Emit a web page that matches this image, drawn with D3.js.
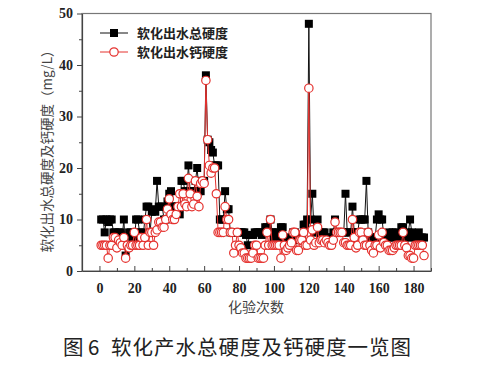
<!DOCTYPE html>
<html><head><meta charset="utf-8">
<script src="https://cdn.jsdelivr.net/npm/d3@7"></script>
<style>html,body{margin:0;padding:0;background:#fff;}svg{display:block;}</style>
</head><body>
<svg id="chart" width="482" height="368"></svg>
<script>
// 化验次数 1..186
const totalHardness = [
10,10,7.5,10,9.5,10,10,7.5,7.5,6,
7.5,7.5,6.5,10,3,5,7.5,7.5,6.5,6,
10,10,7.5,7.5,6.5,10,12.5,12.5,7.5,11.5,
12,11.5,17.5,12.5,12.5,12.5,10,10,13.5,15,
15.5,12.5,12.5,12.5,12.5,11,17.5,17.5,15.5,15.5,
20.5,15.5,15.5,15.5,17.5,20,15.5,15.5,17.5,17.5,
38,25.5,25,23.5,23,20.5,20.5,20.5,10,10,
10,15.5,12,12,7.5,7.5,7.5,7.5,7.5,7.5,
7.5,7.5,7.5,7,5,7,7,7,7.5,7.5,
7.5,7.5,7,7.5,8.5,8.5,7.5,10,7.5,6.5,
7.5,7.5,6.5,8.5,8.5,6,6,6.5,6,6.5,
7.5,7.5,6,6,6.5,6.5,9,9,10,48,
10,15,7.5,7.5,10,7.5,6.5,7.5,7.5,6.5,
6,6.5,6.5,7.5,10,7.5,7.5,7.5,7.5,7.5,
15,7.5,7.5,7.5,12.5,7.5,7.5,7.5,10,10,
10,10,17.5,7.5,6.5,6.5,6.5,6.5,10,11,
10,10,6.5,6.5,6.5,7.5,6.5,7.5,6.5,7.5,
6.5,6.5,8.5,8.5,6.5,6.5,7.5,10,7.5,6.5,
6.5,6.5,7.5,6.5,6.5,6.5
];
const calciumHardness = [
5,5,5,5,2.5,5,5,6.5,6.5,4.5,
6,5.5,5,6.5,2.5,5,4.5,5,5,7.5,
5,5,5,6.5,5,6.5,10,5,7.5,7.5,
5,7.5,8,9.5,9.5,8.5,8.5,10,12,14,
11,10,10,11,12.5,15,12.5,15,13,12.5,
18,15,12.5,13,17.5,14.5,12.5,17,17.5,17,
37,25.5,20.5,19,20,20,15,7.5,7.5,7.5,
7.5,12.5,10,10,7.5,7.5,3.5,5,7.5,5,
4.5,3.5,3.5,2.5,2.5,2.5,2.5,3.5,5,5,
2.5,2.5,2.5,2.5,5,7.5,5,10,5,5,
5,5,5,2.5,7,5,4,4.5,5,5.5,
7.5,7.5,4,4,6,6,7.5,5,5,35.5,
6,8,5,5.5,8.5,5.5,6,6,5.5,6,
5.5,5,5,6,9.5,7.5,7.5,7.5,7.5,5.5,
5.5,5,5,5,10,6.5,4.5,5,7.5,7.5,
6,5,5,7.5,5,4,3.5,5,5,7,
4.5,7.5,5.5,5,5,4,4,4,4.5,5,
5,5,5,7.5,5,4.5,3,3,2.5,2.5,
5,5,5,5,5,3
];
const xTicks = [0,20,40,60,80,100,120,140,160,180];
const yTicks = [0,10,20,30,40,50];
const seriesNames = ["软化出水总硬度","软化出水钙硬度"];
const xTitle = "化验次数";
const yTitle = "软化出水总硬度及钙硬度（mg/L）";
const caption = ["图","6","软化产水总硬度及钙硬度一览图"];

const svg = d3.select("#chart");
const L = 82, R = 431, T = 13.5, B = 271;
const x = d3.scaleLinear().domain([-10,190]).range([L,R]);
const y = d3.scaleLinear().domain([0,50]).range([B,T]);
const axisColor = "#444";
const serif = "'Liberation Serif','Times New Roman',serif";
const cjk = "'Noto Sans CJK SC','Noto Sans',sans-serif";

// frame
svg.append("rect").attr("x",L).attr("y",T).attr("width",R-L).attr("height",B-T)
  .attr("fill","none").attr("stroke","#777").attr("stroke-width",1.2);

// x axis: inward ticks
const xAxis = d3.axisBottom(x).tickValues(xTicks).tickSizeInner(-5).tickSizeOuter(0).tickPadding(12);
const gx = svg.append("g").attr("transform",`translate(0,${B})`).call(xAxis);
gx.select(".domain").attr("stroke",axisColor).attr("stroke-width",1.2);
gx.selectAll(".tick line").attr("stroke",axisColor);
gx.selectAll(".tick text").attr("font-family",serif).attr("font-weight","bold").attr("font-size",14).attr("fill","#222");
const gxm = svg.append("g").attr("transform",`translate(0,${B})`)
  .call(d3.axisBottom(x).tickValues(d3.range(-10,191,10).filter(v=>v%20!==0)).tickSize(-3).tickFormat(""));
gxm.select(".domain").remove();
gxm.selectAll(".tick line").attr("stroke",axisColor);

// y axis: outward ticks
const yAxis = d3.axisLeft(y).tickValues(yTicks).tickSizeInner(5).tickSizeOuter(0).tickPadding(4);
const gy = svg.append("g").attr("transform",`translate(${L},0)`).call(yAxis);
gy.select(".domain").attr("stroke",axisColor).attr("stroke-width",1.2);
gy.selectAll(".tick line").attr("stroke",axisColor);
gy.selectAll(".tick text").attr("font-family",serif).attr("font-weight","bold").attr("font-size",14).attr("fill","#222");
const gym = svg.append("g").attr("transform",`translate(${L},0)`)
  .call(d3.axisLeft(y).tickValues([5,15,25,35,45]).tickSize(3).tickFormat(""));
gym.select(".domain").remove();
gym.selectAll(".tick line").attr("stroke",axisColor);

const idx = d3.range(1, totalHardness.length+1);
const lineGen = d3.line().x(d=>x(d[0])).y(d=>y(d[1]));
const tData = idx.map((i,k)=>[i,totalHardness[k]]);
const cData = idx.map((i,k)=>[i,calciumHardness[k]]);
const red = "#e5322f";

svg.append("path").datum(tData).attr("d",lineGen).attr("fill","none").attr("stroke","#111").attr("stroke-width",1);
svg.append("g").selectAll("rect").data(tData).join("rect")
  .attr("x",d=>x(d[0])-4).attr("y",d=>y(d[1])-4).attr("width",8).attr("height",8).attr("fill","#000");

svg.append("path").datum(cData).attr("d",lineGen).attr("fill","none").attr("stroke",red).attr("stroke-width",1);
svg.append("g").selectAll("circle").data(cData).join("circle")
  .attr("cx",d=>x(d[0])).attr("cy",d=>y(d[1])).attr("r",4.2)
  .attr("fill","#fff").attr("stroke",red).attr("stroke-width",1.2);

// legend
const lg = svg.append("g");
[[33,"#111","sq"],[52,red,"ci"]].forEach((r,k)=>{
  lg.append("line").attr("x1",100).attr("x2",128).attr("y1",r[0]).attr("y2",r[0]).attr("stroke",r[1]).attr("stroke-width",1);
  if(r[2]==="sq") lg.append("rect").attr("x",110).attr("y",r[0]-4).attr("width",8).attr("height",8).attr("fill","#000");
  else lg.append("circle").attr("cx",114).attr("cy",r[0]).attr("r",4.2).attr("fill","#fff").attr("stroke",red).attr("stroke-width",1.2);
  lg.append("text").attr("x",137).attr("y",r[0]).attr("dy","0.36em").attr("font-family",cjk).attr("font-weight","bold")
    .attr("font-size",13).attr("fill","#222").text(seriesNames[k]);
});

// axis titles
svg.append("text").attr("x",256).attr("y",307).attr("dy","0.36em").attr("text-anchor","middle")
  .attr("font-family",cjk).attr("font-size",14).attr("fill","#444").text(xTitle);
svg.append("text").attr("transform","translate(47,148) rotate(-90)").attr("dy","0.36em").attr("text-anchor","middle")
  .attr("font-family",cjk).attr("font-size",13.5).attr("fill","#444").text(yTitle);

// caption
const cap = svg.append("g").attr("font-family",cjk).attr("font-size",20.5).attr("fill","#222");
cap.append("text").attr("x",63).attr("y",348).attr("dy","0.36em").text(caption[0]);
cap.append("text").attr("x",88).attr("y",348).attr("dy","0.36em").text(caption[1]);
cap.append("text").attr("x",111).attr("y",348).attr("dy","0.36em").attr("textLength",300).text(caption[2]);
</script>
</body></html>
